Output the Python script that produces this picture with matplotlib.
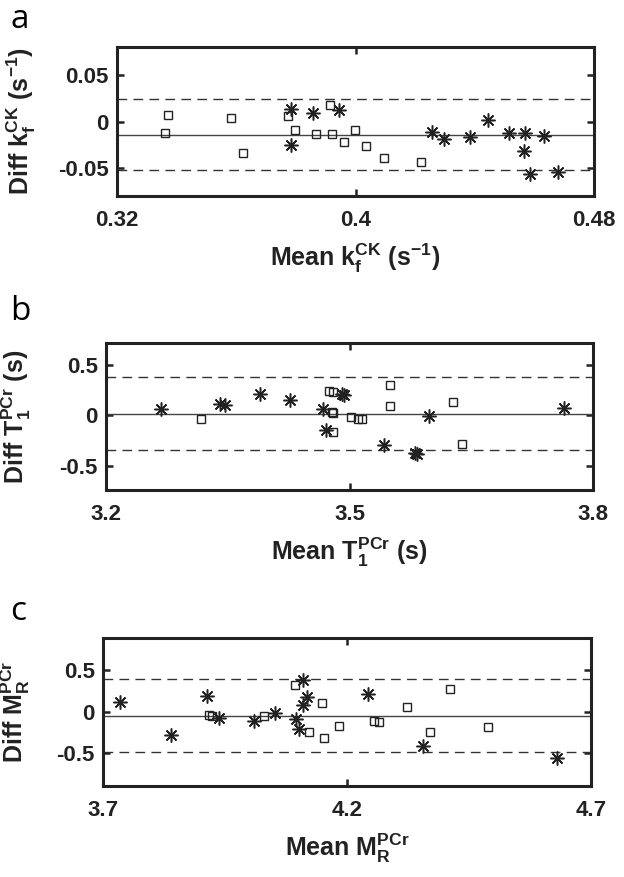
import numpy as np
import matplotlib
matplotlib.use('Agg')
import matplotlib.pyplot as plt

plt.rcParams['font.family'] = ['Liberation Sans', 'DejaVu Sans']
plt.rcParams['font.weight'] = 'bold'
plt.rcParams['mathtext.fontset'] = 'custom'
plt.rcParams['mathtext.rm'] = 'Liberation Sans:bold'
plt.rcParams['mathtext.bf'] = 'Liberation Sans:bold'
plt.rcParams['mathtext.it'] = 'Liberation Sans:bold'

# panel a : k_f^CK
a_sq_x = [0.3372, 0.3361, 0.3582, 0.3624, 0.3773, 0.3798, 0.3868, 0.3915, 0.3922, 0.3963, 0.3999, 0.4036, 0.4095, 0.4221]
a_sq_y = [0.0067, -0.012, 0.0039, -0.034, 0.0064, -0.0088, -0.0134, 0.0177, -0.0134, -0.022, -0.0088, -0.026, -0.0388, -0.043]
a_st_x = [0.3783, 0.3783, 0.3856, 0.3944, 0.4258, 0.4297, 0.4384, 0.4444, 0.4515, 0.4567, 0.4564, 0.4584, 0.4633, 0.4679]
a_st_y = [0.0131, -0.0257, 0.0088, 0.0121, -0.0109, -0.0183, -0.0169, 0.0018, -0.0123, -0.0123, -0.0318, -0.0561, -0.0155, -0.0547]
a_lines = [0.024, -0.0147, -0.052]

# panel b : T1 PCr
b_sq_x = [3.3165, 3.4749, 3.4798, 3.479, 3.4802, 3.4802, 3.5015, 3.511, 3.5155, 3.5495, 3.5495, 3.6279, 3.639]
b_sq_y = [-0.036, 0.24, 0.233, 0.034, 0.027, -0.162, -0.015, -0.036, -0.036, 0.296, 0.09, 0.135, -0.284]
b_st_x = [3.2673, 3.3403, 3.3468, 3.3899, 3.4261, 3.4679, 3.4708, 3.4913, 3.4929, 3.5425, 3.5812, 3.5832, 3.5979, 3.7645]
b_st_y = [0.064, 0.116, 0.103, 0.212, 0.149, 0.064, -0.14, 0.212, 0.198, -0.29, -0.37, -0.377, -0.005, 0.07]
b_lines = [0.375, 0.017, -0.34]

# panel c : M_R PCr
c_sq_x = [3.9169, 3.9236, 4.0291, 4.0933, 4.122, 4.1487, 4.1527, 4.1842, 4.2554, 4.265, 4.3225, 4.3709, 4.4107, 4.4887]
c_sq_y = [-0.043, -0.055, -0.055, 0.318, -0.245, 0.107, -0.314, -0.172, -0.112, -0.131, 0.055, -0.245, 0.277, -0.185]
c_st_x = [3.7357, 3.8395, 3.9121, 3.9368, 4.0092, 4.0529, 4.0947, 4.1021, 4.1103, 4.1173, 4.1103, 4.2437, 4.3553, 4.6294]
c_st_y = [0.119, -0.289, 0.188, -0.075, -0.115, -0.015, -0.087, -0.209, 0.383, 0.172, 0.075, 0.213, -0.419, -0.565]
c_lines = [0.39, -0.05, -0.49]

W, H = 624, 877
fig = plt.figure(figsize=(W/100, H/100), dpi=100)
ink = '#222222'

def panel(box, sqx, sqy, stx, sty, lines, xlim, xticks, xtl, ylim, yticks, ytl, xlab, ylab, ylab_x, letter, ly):
  l, t, r, b = box
  ax = fig.add_axes([l/W, 1-b/H, (r-l)/W, (b-t)/H])
  ax.axhline(lines[0], color='#333333', lw=1.0, ls=(0, (7, 4.5)))
  ax.axhline(lines[1], color='#444444', lw=1.0)
  ax.axhline(lines[2], color='#333333', lw=1.0, ls=(0, (7, 4.5)))
  ax.plot(sqx, sqy, 's', mfc='none', mec=ink, ms=5.5, mew=1.0)
  ax.plot(stx, sty, marker=(8, 2, 0), ls='none', color=ink, ms=10, mew=1.1)
  ax.set_xlim(xlim)
  ax.set_ylim(ylim)
  ax.set_xticks(xticks)
  ax.set_xticklabels(xtl)
  ax.set_yticks(yticks)
  ax.set_yticklabels(ytl)
  ax.tick_params(direction='in', length=5, width=1.8, top=True, right=True,
                 labelsize=16, colors=ink)
  ax.tick_params(axis='x', pad=10)
  ax.tick_params(axis='y', pad=6)
  for s in ax.spines.values():
    s.set_linewidth(2.2)
    s.set_color(ink)
  ax.set_xlabel(xlab, fontsize=18, fontweight='bold', color=ink, labelpad=8)
  ax.set_ylabel(ylab, fontsize=18, fontweight='bold', color=ink)
  ax.yaxis.set_label_coords(ylab_x, 0.5)
  fig.text(10/W, 1-ly/H, letter, fontsize=24, family='Open Sans', fontweight='normal', va='center')
  return ax

panel((117, 47, 594, 196), a_sq_x, a_sq_y, a_st_x, a_st_y, a_lines,
      (0.32, 0.48), [0.32, 0.4, 0.48], ['0.32', '0.4', '0.48'],
      (-0.08, 0.08), [-0.05, 0, 0.05], ['-0.05', '0', '0.05'],
      r'Mean $\mathbf{k_f^{CK}}$ (s$^{\mathbf{-1}}$)',
      r'Diff $\mathbf{k_f^{CK}}$ (s$^{\mathbf{-1}}$)', -0.165, 'a', 20)

panel((106, 343, 593, 490), b_sq_x, b_sq_y, b_st_x, b_st_y, b_lines,
      (3.2, 3.8), [3.2, 3.5, 3.8], ['3.2', '3.5', '3.8'],
      (-0.735, 0.715), [-0.5, 0, 0.5], ['-0.5', '0', '0.5'],
      r'Mean $\mathbf{T_1^{PCr}}$ (s)',
      r'Diff $\mathbf{T_1^{PCr}}$ (s)', -0.15, 'b', 312)

panel((103, 638, 591, 786), c_sq_x, c_sq_y, c_st_x, c_st_y, c_lines,
      (3.7, 4.7), [3.7, 4.2, 4.7], ['3.7', '4.2', '4.7'],
      (-0.9, 0.89), [-0.5, 0, 0.5], ['-0.5', '0', '0.5'],
      r'Mean $\mathbf{M_R^{PCr}}$',
      r'Diff $\mathbf{M_R^{PCr}}$', -0.145, 'c', 612)

fig.savefig('out.png', dpi=100)
